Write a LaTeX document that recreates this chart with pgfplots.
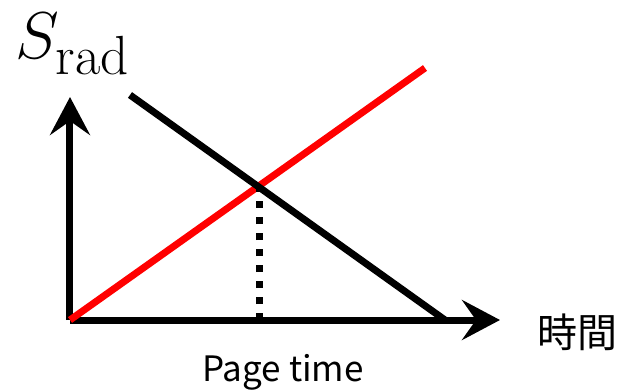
\documentclass[border=0pt]{standalone}
\usepackage{pgfplots}
\pgfplotsset{compat=1.18}
\usepackage{fontspec}
\newfontfamily\cjk{Noto Sans CJK JP}
\usetikzlibrary{arrows.meta}
\begin{document}
\begin{tikzpicture}
\begin{axis}[
  x=0.5pt, y=0.5pt,
  xmin=0, xmax=430, ymin=0, ymax=223,
  axis lines=left,
  axis line style={line width=3.5pt, -{Stealth[length=19pt, width=20pt, inset=7pt]}},
  xtick=\empty, ytick=\empty,
  clip=false,
]
\addplot[red, line width=3.5pt] coordinates {(0,0) (355,252)};
\addplot[black, line width=3.5pt] coordinates {(60,225) (375,0)};
\addplot[black, line width=3.5pt, dash pattern=on 3.5pt off 4.5pt] coordinates {(190,0) (190,132)};
\node at (axis cs:3,276) {\scalebox{1.33}{\Huge $S_{\mathrm{rad}}$}};
\node at (axis cs:507,-12) {\cjk\fontsize{20}{24}\selectfont 時間};
\node at (axis cs:213,-52) {\cjk\fontsize{17.5}{21}\selectfont Page time};
\coordinate (bl) at (axis cs:-70,-71);
\coordinate (tr) at (axis cs:551,320);
\end{axis}
\pgfresetboundingbox
\path (bl) rectangle (tr);
\end{tikzpicture}
\end{document}
